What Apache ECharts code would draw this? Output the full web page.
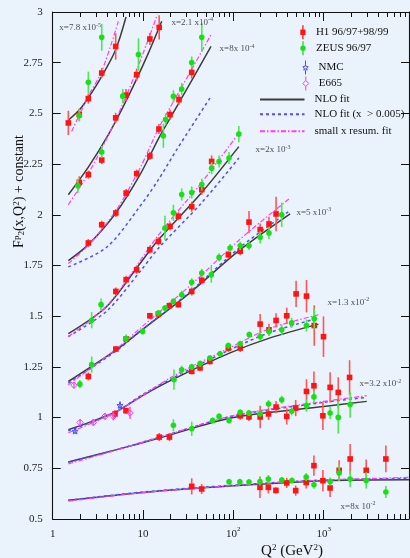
<!DOCTYPE html>
<html><head><meta charset="utf-8">
<script src="https://cdn.jsdelivr.net/npm/echarts@6/dist/echarts.min.js"></script>
<style>html,body{margin:0;padding:0;background:#eaf3fb}#c{width:410px;height:558px}</style>
</head><body><div id="c"></div>
<script>
// ---- data: [Q2, F2 + constant, error] ----
const h1Data = [
  [1.49,2.453,0.06],[1.97,2.494,0.03],[2.48,2.573,0.025],[3.49,2.699,0.025],[4.98,2.83,0.065],
  [1.97,2.16,0.03],[2.48,2.198,0.02],[3.49,2.27,0.02],[4.98,2.478,0.025],[6.48,2.59,0.03],[8.5,2.691,0.03],[11.9,2.867,0.03],[15.1,2.924,0.06],
  [2.48,1.861,0.02],[3.49,1.951,0.02],[5.0,2.009,0.02],[6.5,2.107,0.02],[8.5,2.203,0.02],[11.9,2.29,0.02],[15.0,2.423,0.025],[19.9,2.494,0.025],[25.0,2.568,0.025],[34.6,2.702,0.03],
  [5.0,1.622,0.02],[6.5,1.68,0.02],[8.5,1.729,0.02],[11.9,1.828,0.02],[14.8,1.869,0.02],[19.9,1.943,0.02],[24.6,1.993,0.02],[34.6,2.04,0.025],[44.7,2.124,0.025],[57.5,2.263,0.03],
  [2.48,1.203,0.02],[5.0,1.338,0.015],[6.5,1.388,0.015],[11.9,1.502,0.015],[14.8,1.511,0.015],[19.6,1.552,0.015],[24.6,1.557,0.015],[34.6,1.622,0.02],[44.7,1.677,0.02],[88,1.803,0.02],[119,1.82,0.02],[149,1.964,0.055],[198,1.927,0.03],[248,1.955,0.035],[297,2.004,0.085],
  [4.9,1.018,0.02],[6.47,1.034,0.015],[34.6,1.228,0.015],[42.8,1.245,0.015],[55,1.277,0.015],[88,1.343,0.02],[119,1.343,0.02],[198,1.461,0.05],[248,1.433,0.03],[297,1.479,0.035],[390,1.502,0.04],[495,1.61,0.065],[645,1.599,0.08],[786,1.454,0.1],[995,1.399,0.1],
  [15.1,0.904,0.02],[19.6,0.904,0.02],[119,1.009,0.02],[149,1.003,0.02],[198,1.003,0.055],[245,1.018,0.03],[297,1.052,0.03],[390,1.006,0.04],[490,1.047,0.04],[645,1.129,0.06],[780,1.157,0.07],[980,1.009,0.07],[1178,1.149,0.075],[1450,1.124,0.075],[1935,1.198,0.085],
  [34.6,0.661,0.04],[44.6,0.648,0.025],[197,0.656,0.053],[244,0.656,0.03],[296,0.641,0.015],[390,0.678,0.025],[490,0.64,0.025],[640,0.68,0.03],[780,0.763,0.05],[980,0.689,0.053],[1177,0.653,0.045],[1483,0.74,0.05],[1963,0.796,0.074],[2955,0.74,0.053],[4880,0.796,0.066]
];
const zeusData = [
  [1.97,2.49,0.03],[2.48,2.653,0.053],[3.49,2.875,0.066],
  [1.9,2.143,0.035],[3.49,2.31,0.03],[5.96,2.585,0.035],[8.9,2.79,0.08],
  [16.8,2.39,0.06],[17.8,2.47,0.03],[21.7,2.584,0.03],[26.8,2.62,0.03],[34.6,2.751,0.03],[44.7,2.875,0.07],
  [2.7,1.48,0.04],[3.43,1.557,0.03],[17.5,1.935,0.06],[21.7,2.01,0.04],[26.8,2.10,0.03],[34.6,2.11,0.03],[44.7,2.149,0.03],[57.5,2.23,0.03],[69.5,2.263,0.03],[89.5,2.28,0.03],[115,2.398,0.04],
  [2.0,1.165,0.02],[2.7,1.261,0.04],[6.5,1.39,0.02],[9.9,1.425,0.015],[14.8,1.516,0.015],[17.5,1.54,0.015],[21.7,1.573,0.015],[26.8,1.606,0.02],[34.6,1.667,0.02],[44.7,1.713,0.02],[57,1.705,0.04],[69.5,1.79,0.02],[91.9,1.836,0.02],[119,1.847,0.02],[149,1.847,0.02],[198,1.889,0.03],[248,1.91,0.03],[343,2.0,0.06],
  [22,1.187,0.05],[26.8,1.236,0.02],[34.6,1.25,0.015],[42.8,1.266,0.015],[55,1.294,0.015],[71.3,1.315,0.015],[88,1.355,0.015],[119,1.364,0.015],[150,1.409,0.015],[198,1.40,0.02],[248,1.425,0.02],[343,1.433,0.025],[442,1.467,0.025],[645,1.454,0.03],[786,1.488,0.05],
  [21.7,0.962,0.03],[34.6,0.945,0.035],[59,0.986,0.015],[69.5,1.006,0.015],[89.6,0.986,0.015],[119,1.026,0.015],[149,1.023,0.015],[198,1.019,0.015],[245,1.067,0.02],[343,1.088,0.02],[442,1.031,0.02],[645,1.059,0.03],[780,1.102,0.03],[1178,1.023,0.03],[1450,1.001,0.08],[1963,1.064,0.065],
  [89.6,0.684,0.015],[118,0.684,0.015],[149,0.682,0.015],[197,0.685,0.02],[244,0.697,0.02],[344,0.692,0.015],[445,0.69,0.015],[640,0.707,0.02],[780,0.669,0.02],[1177,0.685,0.02],[1483,0.727,0.04],[1963,0.697,0.04],[2955,0.69,0.04],[4880,0.633,0.03]
];
const nmcData = [[1.77,0.932,0.01],[5.56,1.059,0.02]];
const e665Data = [[1.72,1.16,0.015],[2.01,0.976,0.015],[2.81,0.976,0.015],[3.79,1.006,0.015],[4.69,1.006,0.02],[7.18,1.023,0.03]];

// ---- fitted curves, one list per x bin ----
const nloFit = [
  [[1.49,2.466],[2.0,2.52],[2.48,2.577],[3.49,2.683],[4.98,2.814],[6.48,2.975]],
  [[1.49,2.099],[2.48,2.235],[4.12,2.394],[6.87,2.584],[11.4,2.795],[16.1,2.954]],
  [[1.49,1.774],[2.48,1.853],[5.0,2.009],[9.26,2.198],[15.4,2.389],[24.6,2.547],[56.6,2.83]],
  [[1.49,1.414],[3.96,1.548],[9.26,1.76],[14.8,1.877],[44.7,2.11],[115,2.336]],
  [[1.49,1.178],[5.1,1.335],[9.26,1.425],[33,1.615],[119,1.828],[425,2.005]],
  [[1.49,0.94],[2.5,0.975],[5.1,1.03],[10,1.11],[21.7,1.19],[91.9,1.319],[255,1.393],[874,1.461]],
  [[1.49,0.781],[5.1,0.842],[15.1,0.899],[100,1.0],[1000,1.055],[3000,1.08]],
  [[1.49,0.592],[10,0.631],[100,0.664],[1000,0.689],[8800,0.694]]
];
const nloHighX = [
  [[1.49,1.743],[3.96,1.84],[9.26,2.042],[14.8,2.173],[23.6,2.321],[56.6,2.584]],
  [[1.49,1.40],[3.96,1.525],[9.26,1.72],[14.8,1.835],[44.7,2.06],[115,2.28]],
  [[1.49,1.17],[5.1,1.33],[9.26,1.425],[33,1.62],[119,1.84],[425,2.021]],
  [[1.49,0.935],[2.5,0.972],[5.1,1.03],[10,1.115],[21.7,1.197],[91.9,1.335],[255,1.42],[874,1.491]],
  [[1.49,0.78],[5.1,0.842],[15.1,0.903],[100,1.008],[1000,1.075],[3000,1.10]],
  [[1.49,0.592],[10,0.633],[100,0.667],[1000,0.692],[8800,0.70]]
];
const resumFit = [
  [[1.62,2.411],[2.48,2.585],[3.49,2.707],[5.33,2.954]],
  [[1.49,2.05],[2.48,2.204],[4.12,2.391],[6.87,2.61],[11.4,2.863],[14.4,2.987]],
  [[1.49,1.76],[2.48,1.85],[5.0,2.02],[9.26,2.23],[15.4,2.44],[24.6,2.60],[56.6,2.888]],
  [[1.49,1.40],[3.96,1.55],[14.8,1.90],[44.7,2.16],[115,2.403]],
  [[1.49,1.162],[5.1,1.34],[9.26,1.44],[33,1.65],[119,1.88],[425,2.083]],
  [[1.49,0.925],[5.1,1.03],[21.7,1.205],[91.9,1.345],[255,1.44],[874,1.507]],
  [[1.49,0.772],[5.1,0.84],[15.1,0.903],[100,1.01],[1000,1.08],[3000,1.108]],
  [[1.49,0.588],[10,0.63],[100,0.665],[1000,0.692],[8800,0.705]]
];

// ---- bin labels ----
const binText = ['x=7.8 x10','x=2.1 x10','x=8x 10','x=2x 10','x=5 x10','x=1.3 x10','x=3.2 x10','x=8x 10'];
const binExp = ['-5','-4','-4','-3','-3','-2','-2','-2'];
const binLabelAt = [[1.17,2.921],[20.4,2.947],[69.5,2.817],[174,2.319],[494,2.012],[1091,1.566],[2466,1.165],[1520,0.561]];

// ---- ticks ----
const xMajorTicks = [1,10,100,1000];
const xMinorTicks = [2,3,4,5,6,7,8,9,20,30,40,50,60,70,80,90,200,300,400,500,600,700,800,900,2000,3000,4000,5000,6000,7000,8000];
const xMin = 1, xMax = 8800;

const NAMES = ['H1 96/97+98/99','ZEUS 96/97','NMC','E665','NLO fit','NLO fit (x  > 0.005)','small x resum. fit'];
const SERIF = 'Liberation Serif';

function renderPoints(kind, col, bar) {
  return function (params, api) {
    const q = api.value(0), f = api.value(1), e = api.value(2);
    const c = api.coord([q, f]);
    const t = api.coord([q, f + e]);
    const b = api.coord([q, f - e]);
    const kids = [{ type: 'line', shape: { x1: c[0], y1: t[1], x2: c[0], y2: b[1] }, style: { stroke: bar, lineWidth: 1.6 } }];
    if (kind === 'square') {
      kids.push({ type: 'rect', shape: { x: c[0] - 2.8, y: c[1] - 2.8, width: 5.6, height: 5.6 }, style: { fill: col } });
    } else if (kind === 'circle') {
      kids.push({ type: 'circle', shape: { cx: c[0], cy: c[1], r: 2.8 }, style: { fill: col } });
    } else if (kind === 'diamond') {
      kids.push({ type: 'polygon', shape: { points: [[c[0], c[1] - 3.3], [c[0] + 3.3, c[1]], [c[0], c[1] + 3.3], [c[0] - 3.3, c[1]]] }, style: { fill: 'none', stroke: col, lineWidth: 1 } });
    } else {
      const pts = [];
      for (let k = 0; k < 10; k++) {
        const r = k % 2 === 0 ? 3.2 : 1.4;
        const a = -Math.PI / 2 + k * Math.PI / 5;
        pts.push([c[0] + r * Math.cos(a), c[1] + r * Math.sin(a)]);
      }
      kids.push({ type: 'polygon', shape: { points: pts }, style: { fill: 'none', stroke: col, lineWidth: 1 } });
    }
    return { type: 'group', children: kids };
  };
}

const series = [];
const lineCommon = { type: 'line', symbol: 'none', showSymbol: false, smooth: 0.3, silent: true, z: 2, xAxisIndex: 0, yAxisIndex: 0 };
nloFit.forEach(d => series.push(Object.assign({}, lineCommon, { name: NAMES[4], data: d, lineStyle: { color: '#3c3c3c', width: 1.5 }, itemStyle: { color: '#3c3c3c' } })));
nloHighX.forEach(d => series.push(Object.assign({}, lineCommon, { name: NAMES[5], data: d, lineStyle: { color: '#5050f0', width: 1.5, type: [3, 3] }, itemStyle: { color: '#5050f0' } })));
resumFit.forEach(d => series.push(Object.assign({}, lineCommon, { name: NAMES[6], data: d, lineStyle: { color: '#ff3cff', width: 1.2, type: [5, 2, 1.5, 2] }, itemStyle: { color: '#ff3cff' } })));

const pointSets = [
  [NAMES[0], h1Data, 'square', '#ff1414', '#ff5555'],
  [NAMES[1], zeusData, 'circle', '#16e016', '#4ee84e'],
  [NAMES[2], nmcData, 'star', '#4a4af5', '#6a6af5'],
  [NAMES[3], e665Data, 'diamond', '#f03cf0', '#f060f0']
];
pointSets.forEach(p => series.push({
  type: 'custom', name: p[0], data: p[1], xAxisIndex: 0, yAxisIndex: 0, z: 3, silent: true,
  encode: { x: 0, y: 1 }, itemStyle: { color: p[3] },
  renderItem: renderPoints(p[2], p[3], p[4])
}));

series.push({
  type: 'scatter', name: 'binLabels', silent: true, z: 4, xAxisIndex: 0, yAxisIndex: 0,
  symbol: 'circle', symbolSize: 1, itemStyle: { color: 'transparent' },
  data: binLabelAt.map((p, i) => [p[0], p[1], binText[i], binExp[i]]),
  label: {
    show: true, position: 'right', distance: 0,
    formatter: pr => '{b|' + pr.data[2] + '}{s|' + pr.data[3] + '}',
    rich: {
      b: { fontFamily: SERIF, fontSize: 9, color: '#222', lineHeight: 12 },
      s: { fontFamily: SERIF, fontSize: 6, color: '#222', lineHeight: 7, verticalAlign: 'top' }
    }
  }
});

const axisLineStyle = { color: '#111', width: 1.1 };
function xAx(pos, major) {
  return {
    type: 'log', logBase: 10, min: xMin, max: xMax, position: pos,
    axisLine: { show: major, lineStyle: axisLineStyle },
    axisTick: { show: true, inside: true, length: major ? 9 : 5, customValues: major ? xMajorTicks : xMinorTicks, lineStyle: { color: '#111', width: 1 } },
    axisLabel: pos === 'bottom' && major ? {
      show: true, customValues: xMajorTicks, margin: 7, color: '#222', fontFamily: SERIF, fontSize: 11, lineHeight: 16,
      formatter: v => v < 5 ? '1' : (v < 50 ? '10' : '10{s|' + Math.round(Math.log10(v)) + '}'),
      rich: { s: { fontFamily: SERIF, fontSize: 7, lineHeight: 8, verticalAlign: 'top', color: '#222' } }
    } : { show: false },
    splitLine: { show: false }, minorTick: { show: false }
  };
}

// legend: one component per row so rows sit exactly where the reference has them
const legendText = { fontFamily: SERIF, fontSize: 11, color: '#111' };
const pointLegendIcons = [
  { icon: 'path://M3,0H4.4V4.5H6.5V10.5H4.4V15H3V10.5H0.9V4.5H3Z', itemStyle: { color: '#ff1414' } },
  { icon: 'path://M3,0H4.4V15H3Z M6.6,7.5A2.9,2.9,0,1,1,0.8,7.5A2.9,2.9,0,1,1,6.6,7.5Z', itemStyle: { color: '#16e016' } },
  { icon: 'path://M3.7,0V4.3 M3.7,10.4V15 M3.7,4.3L4.5,6.6L6.6,6.7L5,8.1L5.5,10.4L3.7,9.2L1.9,10.4L2.4,8.1L0.8,6.7L2.9,6.6Z', itemStyle: { color: 'none', borderColor: '#4a4af5', borderWidth: 1 } },
  { icon: 'path://M3.7,0V4.3 M3.7,10.7V15 M3.7,4.3L6.9,7.5L3.7,10.7L0.5,7.5Z', itemStyle: { color: 'none', borderColor: '#f03cf0', borderWidth: 1 } }
];
const pointLegendTops = [25.3, 41.3, 58, 74];
const lineLegendTops = [94, 108.7, 125.7];
const legends = [];
pointLegendIcons.forEach((ic, i) => legends.push({
  data: [Object.assign({ name: NAMES[i] }, ic)], orient: 'vertical', left: 300.3, top: pointLegendTops[i], padding: 0,
  itemWidth: 16, itemHeight: 14, selectedMode: false, textStyle: legendText
}));
lineLegendTops.forEach((t, i) => legends.push({
  data: [{ name: NAMES[4 + i], itemStyle: { color: 'transparent', borderWidth: 0, opacity: 0 } }], orient: 'vertical', left: 259, top: t, padding: 0,
  itemWidth: 44.5, itemHeight: 14, selectedMode: false,
  textStyle: Object.assign({ padding: [0, 0, 0, 5] }, legendText)
}));

const option = {
  animation: false,
  backgroundColor: 'transparent',
  grid: { left: 52.7, right: 1, top: 12, bottom: 39, containLabel: false },
  xAxis: [xAx('bottom', true), xAx('bottom', false), xAx('top', true), xAx('top', false)],
  yAxis: [
    { type: 'value', min: 0.5, max: 3, interval: 0.25, position: 'left',
      axisLine: { show: true, lineStyle: axisLineStyle },
      axisTick: { show: true, inside: true, length: 8, lineStyle: { color: '#111' } },
      axisLabel: { color: '#222', fontFamily: SERIF, fontSize: 11, margin: 10 },
      splitLine: { show: false } },
    { type: 'value', min: 0.5, max: 3, interval: 0.25, position: 'right',
      axisLine: { show: true, lineStyle: axisLineStyle },
      axisTick: { show: true, inside: true, length: 8, lineStyle: { color: '#111' } },
      axisLabel: { show: false }, splitLine: { show: false } }
  ],
  legend: legends,
  graphic: [
    { type: 'text', x: 19, y: 191.5, rotation: Math.PI / 2, silent: true,
      style: { text: 'F{sp|p}{sb|2}(x,Q{sp|2}) + constant', fill: '#111', font: '14px "Liberation Serif"', align: 'center', verticalAlign: 'middle',
        rich: {
          sp: { fontFamily: SERIF, fontSize: 9, lineHeight: 9, verticalAlign: 'top', fill: '#111' },
          sb: { fontFamily: SERIF, fontSize: 9, lineHeight: 9, verticalAlign: 'bottom', fill: '#111' }
        } } },
    { type: 'text', x: 292, y: 551, silent: true,
      style: { text: 'Q{sp|2} (GeV{sp|2})', fill: '#111', font: '15px "Liberation Serif"', align: 'center', verticalAlign: 'middle',
        rich: { sp: { fontFamily: SERIF, fontSize: 9, lineHeight: 9, verticalAlign: 'top', fill: '#111' } } } }
  ],
  series: series
};

const chart = echarts.init(document.getElementById('c'), null, { renderer: 'canvas' });
chart.setOption(option);
</script></body></html>
